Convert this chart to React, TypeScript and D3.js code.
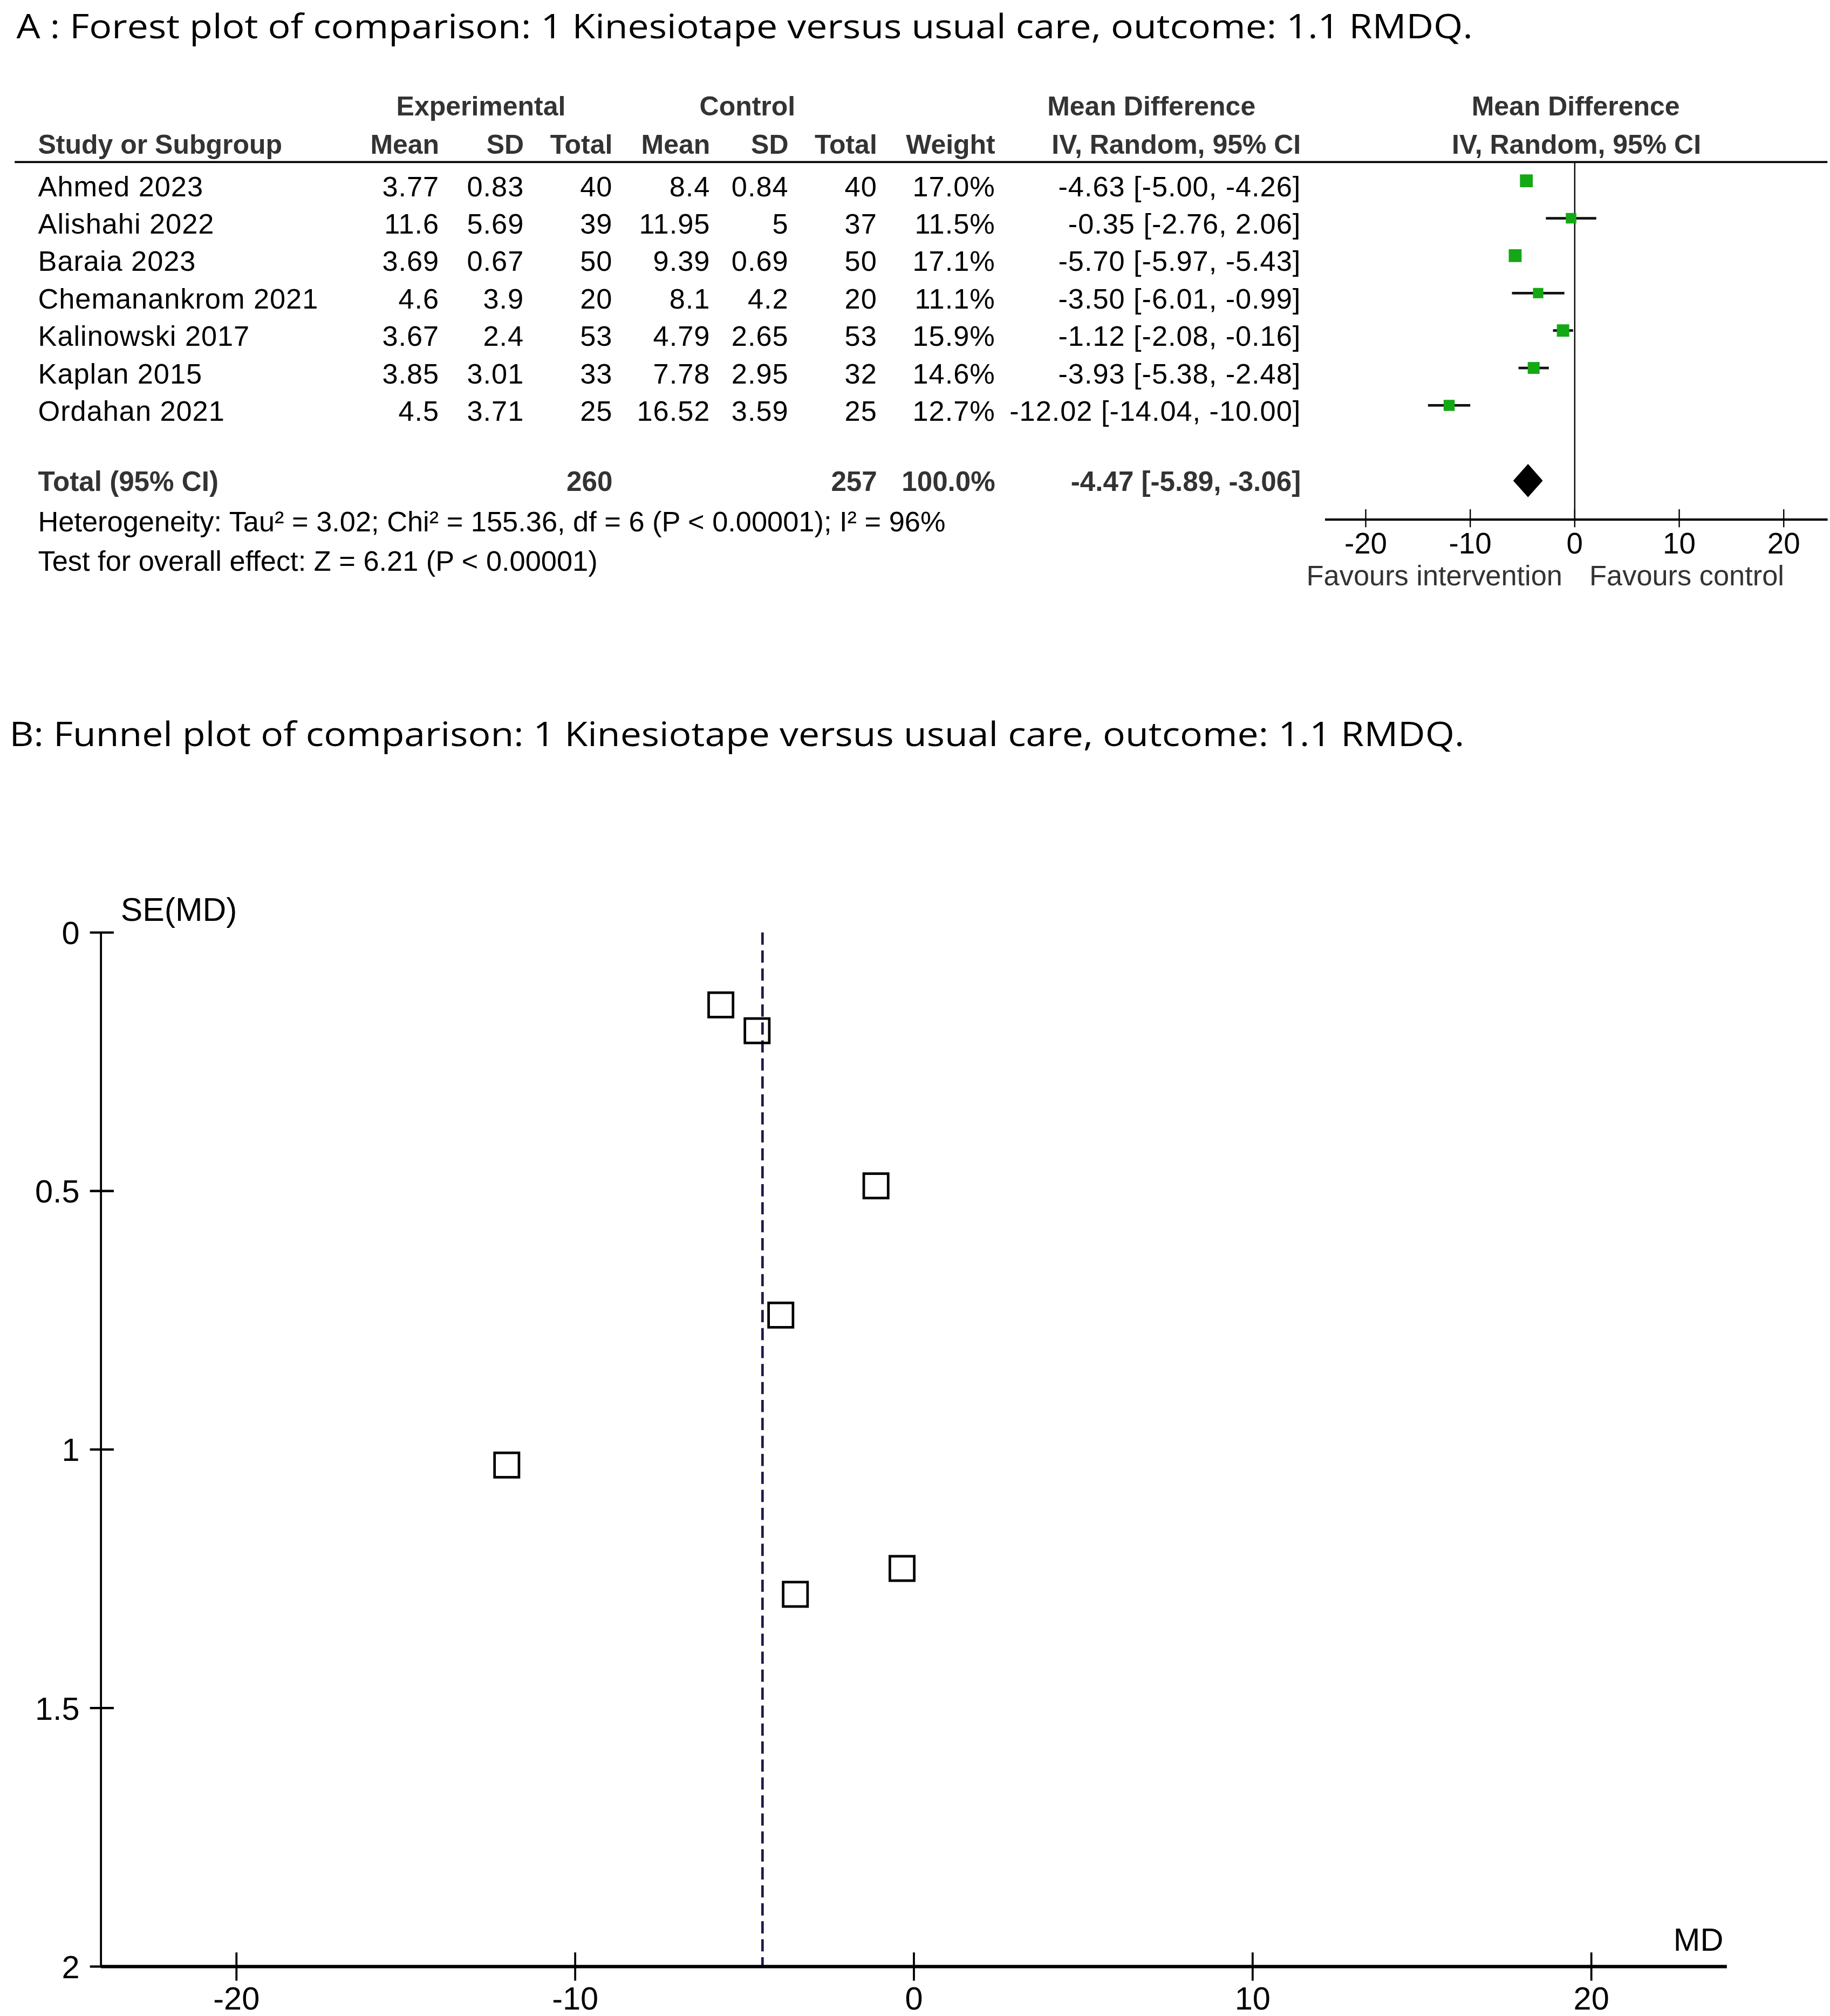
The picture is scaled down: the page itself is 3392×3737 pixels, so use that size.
import * as d3 from "d3";

// forest plot rows
const studies = ["Ahmed 2023", "Alishahi 2022", "Baraia 2023", "Chemanankrom 2021", "Kalinowski 2017", "Kaplan 2015", "Ordahan 2021"];
const expMean = [3.77, 11.6, 3.69, 4.6, 3.67, 3.85, 4.5];
const expSD = [0.83, 5.69, 0.67, 3.9, 2.4, 3.01, 3.71];
const expN = [40, 39, 50, 20, 53, 33, 25];
const ctlMean = [8.4, 11.95, 9.39, 8.1, 4.79, 7.78, 16.52];
const ctlSD = [0.84, 5, 0.69, 4.2, 2.65, 2.95, 3.59];
const ctlN = [40, 37, 50, 20, 53, 32, 25];
const weight = [17.0, 11.5, 17.1, 11.1, 15.9, 14.6, 12.7];
const md = [-4.63, -0.35, -5.7, -3.5, -1.12, -3.93, -12.02];
const ciLow = [-5.0, -2.76, -5.97, -6.01, -2.08, -5.38, -14.04];
const ciHigh = [-4.26, 2.06, -5.43, -0.99, -0.16, -2.48, -10.0];
// funnel plot standard errors
const se = [0.19, 1.23, 0.14, 1.28, 0.49, 0.74, 1.03];

const totalExpN = 260;
const totalCtlN = 257;
const totalWeight = 100.0;
const totalMd = -4.47;
const totalLow = -5.89;
const totalHigh = -3.06;

const heterogeneity = "Heterogeneity: Tau\u00b2 = 3.02; Chi\u00b2 = 155.36, df = 6 (P < 0.00001); I\u00b2 = 96%";
const overallTest = "Test for overall effect: Z = 6.21 (P < 0.00001)";
const titleA = "A : Forest plot of comparison: 1 Kinesiotape versus usual care, outcome: 1.1 RMDQ.";
const titleB = "B: Funnel plot of comparison: 1 Kinesiotape versus usual care, outcome: 1.1 RMDQ.";

const forestTicks = [-20, -10, 0, 10, 20];
const funnelXTicks = [-20, -10, 0, 10, 20];
const funnelYTicks = [0, 0.5, 1, 1.5, 2];

const W = 1425;
const H = 1570;
const tableFont = "'Liberation Sans', Arial, sans-serif";
const titleFont = "'Open Sans', 'Noto Sans', sans-serif";
const green = "#14a814";
const headGray = "#333";

const fmtCI = (m: number, lo: number, hi: number) =>
  `${m.toFixed(2)} [${lo.toFixed(2)}, ${hi.toFixed(2)}]`;

export default function App() {
  // forest scale
  const xF = d3.scaleLinear().domain([-20, 20]).range([1063.5, 1389]);
  const rowY = d3.scaleLinear().domain([0, 1]).range([152.8, 181.95]);
  const axisY = 404.6;
  const zeroTop = 126.2;
  const boxSize = d3.scaleSqrt().domain([0, 17.1]).range([0, 10]);

  // funnel scales
  const xP = d3.scaleLinear().domain([-24, 24]).range([78.6, 1344.7]);
  const yP = d3.scaleLinear().domain([0, 2]).range([726.2, 1531.5]);

  const cols: { right: number; vals: string[] }[] = [
    { right: 342, vals: expMean.map(String) },
    { right: 408, vals: expSD.map(String) },
    { right: 477, vals: expN.map(String) },
    { right: 553, vals: ctlMean.map(String) },
    { right: 614, vals: ctlSD.map(String) },
    { right: 683, vals: ctlN.map(String) },
    { right: 775, vals: weight.map((w) => `${w.toFixed(1)}%`) },
    { right: 1013, vals: md.map((m, i) => fmtCI(m, ciLow[i], ciHigh[i])) },
  ];
  const subHeads = ["Mean", "SD", "Total", "Mean", "SD", "Total", "Weight", "IV, Random, 95% CI"];

  const totalBase = 382.3;
  const totalMid = totalBase - 8;

  return (
    <svg
      width={3392}
      height={3737}
      viewBox={`0 0 ${W} ${H}`}
      style={{ position: "absolute", left: 0, top: 0, background: "#fff" }}
    >
      <rect x={0} y={0} width={W} height={H} fill="#fff" />

      {/* ---------- A: forest plot ---------- */}
      <text x={12.8} y={29.7} fontFamily={titleFont} fontSize={26} textLength={1134} lengthAdjust="spacingAndGlyphs">
        {titleA}
      </text>

      <g fontFamily={tableFont} fontSize={21} fontWeight="bold" fill={headGray}>
        <text x={374.5} y={90} textAnchor="middle">Experimental</text>
        <text x={582} y={90} textAnchor="middle">Control</text>
        <text x={896.6} y={90} textAnchor="middle">Mean Difference</text>
        <text x={1227} y={90} textAnchor="middle">Mean Difference</text>
        <text x={29.6} y={119.8}>Study or Subgroup</text>
        {cols.map((c, i) => (
          <text key={i} x={c.right} y={119.8} textAnchor="end">{subHeads[i]}</text>
        ))}
        <text x={1227.6} y={119.8} textAnchor="middle">IV, Random, 95% CI</text>
      </g>
      <line x1={11.4} x2={1423} y1={126.2} y2={126.2} stroke="#000" strokeWidth={1.5} />

      <g fontFamily={tableFont} fontSize={22} letterSpacing={0.4} fill="#000">
        {studies.map((s, i) => (
          <g key={s}>
            <text x={29.6} y={rowY(i)}>{s}</text>
            {cols.map((c, j) => (
              <text key={j} x={c.right} y={rowY(i)} textAnchor="end">{c.vals[i]}</text>
            ))}
          </g>
        ))}
      </g>

      <g fontFamily={tableFont} fontSize={21.5} fontWeight="bold" fill={headGray}>
        <text x={29.6} y={totalBase}>Total (95% CI)</text>
        <text x={477} y={totalBase} textAnchor="end">{totalExpN}</text>
        <text x={683} y={totalBase} textAnchor="end">{totalCtlN}</text>
        <text x={775} y={totalBase} textAnchor="end">{`${totalWeight.toFixed(1)}%`}</text>
        <text x={1013} y={totalBase} textAnchor="end">{fmtCI(totalMd, totalLow, totalHigh)}</text>
      </g>
      <g fontFamily={tableFont} fontSize={22} fill="#000">
        <text x={29.6} y={414}>{heterogeneity}</text>
        <text x={29.6} y={444.5}>{overallTest}</text>
      </g>

      {/* forest graphic */}
      <line x1={xF(0)} x2={xF(0)} y1={zeroTop} y2={axisY} stroke="#000" strokeWidth={1} />
      {studies.map((s, i) => {
        const cy = rowY(i) - 12;
        const b = boxSize(weight[i]);
        return (
          <g key={s}>
            <line x1={xF(ciLow[i])} x2={xF(ciHigh[i])} y1={cy} y2={cy} stroke="#111" strokeWidth={2} />
            <rect x={xF(md[i]) - b / 2} y={cy - b / 2} width={b} height={b} fill={green} />
          </g>
        );
      })}
      <path
        d={`M${xF(totalLow)},${totalMid} L${xF(totalMd)},${totalMid - 13} L${xF(totalHigh)},${totalMid} L${xF(totalMd)},${totalMid + 13} Z`}
        fill="#000"
      />
      <line x1={xF(-23.9)} x2={xF(24.2)} y1={axisY} y2={axisY} stroke="#000" strokeWidth={1.8} />
      <g fontFamily={tableFont} fontSize={23} fill="#000">
        {forestTicks.map((t) => (
          <g key={t}>
            <line x1={xF(t)} x2={xF(t)} y1={axisY - 8} y2={axisY + 6} stroke="#000" strokeWidth={1} />
            <text x={xF(t)} y={431} textAnchor="middle">{t}</text>
          </g>
        ))}
      </g>
      <g fontFamily={tableFont} fontSize={22} fill={headGray}>
        <text x={1117} y={456} textAnchor="middle">Favours intervention</text>
        <text x={1313.5} y={456} textAnchor="middle">Favours control</text>
      </g>

      {/* ---------- B: funnel plot ---------- */}
      <text x={7.3} y={581} fontFamily={titleFont} fontSize={26} textLength={1133} lengthAdjust="spacingAndGlyphs">
        {titleB}
      </text>

      <line x1={xP(totalMd)} x2={xP(totalMd)} y1={yP(0)} y2={yP(2)} stroke="#1c1c4e" strokeWidth={2} strokeDasharray="9.5,4.5" />

      <line x1={xP(-24)} x2={xP(-24)} y1={yP(0)} y2={yP(2)} stroke="#000" strokeWidth={1.6} />
      <line x1={xP(-24)} x2={xP(24)} y1={yP(2)} y2={yP(2)} stroke="#000" strokeWidth={2.6} />

      <g fontFamily={tableFont} fontSize={25} fill="#000">
        {funnelYTicks.map((t) => (
          <g key={t}>
            <line x1={xP(-24) - 8.6} x2={xP(-24) + 10} y1={yP(t)} y2={yP(t)} stroke="#000" strokeWidth={1.8} />
            <text x={62} y={yP(t)} dy="0.36em" textAnchor="end">{t}</text>
          </g>
        ))}
        {funnelXTicks.map((t) => (
          <g key={t}>
            <line x1={xP(t)} x2={xP(t)} y1={yP(2) - 11} y2={yP(2) + 11} stroke="#000" strokeWidth={1.6} />
            <text x={xP(t)} y={1565} textAnchor="middle">{t}</text>
          </g>
        ))}
        <text x={94} y={717} fontSize={25.5}>SE(MD)</text>
        <text x={1342} y={1519} textAnchor="end">MD</text>
      </g>

      {md.map((m, i) => (
        <rect
          key={i}
          x={xP(m) - 9.5}
          y={yP(se[i]) - 9.5}
          width={19}
          height={19}
          fill="none"
          stroke="#000"
          strokeWidth={2}
        />
      ))}
    </svg>
  );
}
